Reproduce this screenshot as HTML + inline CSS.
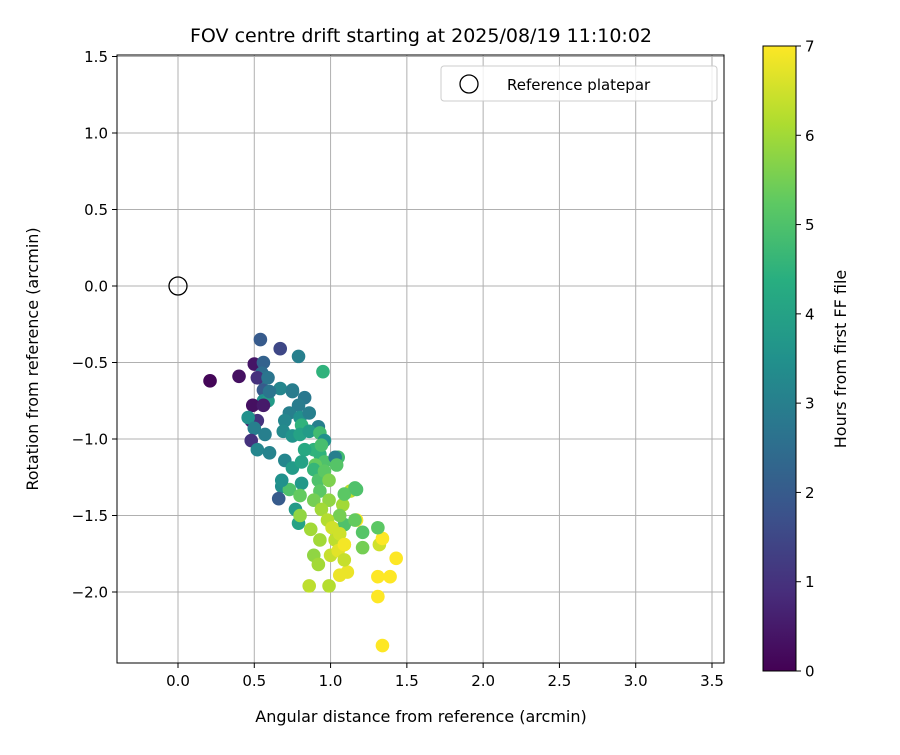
<!DOCTYPE html>
<html><head><meta charset="utf-8"><style>
body{margin:0;background:#fff;font-family:"Liberation Sans","DejaVu Sans",sans-serif}
svg text{font-family:"DejaVu Sans","Liberation Sans",sans-serif;fill:#000}
</style></head><body>
<svg id="chart" width="900" height="750" viewBox="0 0 900 750" xmlns="http://www.w3.org/2000/svg">
<defs><linearGradient id="vir" x1="0" y1="1" x2="0" y2="0">
<stop offset="0" stop-color="#440154"/><stop offset="0.125" stop-color="#472d7b"/><stop offset="0.25" stop-color="#3b528b"/><stop offset="0.375" stop-color="#2c728e"/><stop offset="0.5" stop-color="#21918c"/><stop offset="0.625" stop-color="#28ae80"/><stop offset="0.75" stop-color="#5ec962"/><stop offset="0.875" stop-color="#addc30"/><stop offset="1" stop-color="#fde725"/></linearGradient></defs>
<text x="421" y="42" font-size="19" text-anchor="middle">FOV centre drift starting at 2025/08/19 11:10:02</text>
<g id="grid"></g><g id="ticks"></g><g id="points"></g>
<rect x="117" y="55" width="607" height="608" fill="none" stroke="#000" stroke-width="1"/>
<circle cx="178" cy="286" r="9" fill="none" stroke="#000" stroke-width="1.3"/>
<g>
<rect x="441" y="66" width="276" height="35" rx="3" fill="#fff" fill-opacity="0.8" stroke="#ccc"/>
<circle cx="469" cy="84" r="9" fill="none" stroke="#000" stroke-width="1.3"/>
<text x="507" y="90" font-size="15">Reference platepar</text></g>
<text x="421" y="722" font-size="16" text-anchor="middle">Angular distance from reference (arcmin)</text>
<text transform="translate(38,359) rotate(-90)" font-size="16" text-anchor="middle">Rotation from reference (arcmin)</text>
<rect x="763" y="46" width="33" height="625" fill="url(#vir)" stroke="#000" stroke-width="1"/>
<g id="cbticks"></g>
<text transform="translate(846,359) rotate(-90)" font-size="16" text-anchor="middle">Hours from first FF file</text>
</svg>
<script>
const xTicks=[0,0.5,1,1.5,2,2.5,3,3.5];
const yTicks=[1.5,1.0,0.5,0.0,-0.5,-1.0,-1.5,-2.0];
const cTicks=[0,1,2,3,4,5,6,7];
const xs=[0.21,0.40,0.50,0.54,0.67,0.79,0.95,0.56,0.55,0.56,0.52,0.56,0.56,0.59,0.49,0.56,0.48,0.52,0.46,0.50,0.48,0.57,0.52,0.60,0.67,0.75,0.83,0.79,0.73,0.80,0.70,0.81,0.86,0.92,0.69,0.75,0.80,0.86,0.93,0.96,0.89,0.83,0.70,0.75,0.81,0.93,0.96,1.05,1.03,0.90,0.81,0.68,0.73,0.80,0.66,0.68,0.77,0.79,0.89,0.92,0.96,0.99,0.93,0.99,0.89,1.08,1.13,1.16,1.09,1.17,1.09,1.06,0.80,0.87,0.94,0.98,1.01,1.03,1.06,1.09,0.93,0.89,0.92,1.00,1.05,1.09,1.21,1.32,1.34,1.31,1.11,1.06,0.99,0.86,1.31,1.39,1.43,1.31,1.34,0.59,0.60,0.75,0.94,1.04,1.16,1.09,1.21,1.17];
const ys=[-0.62,-0.59,-0.51,-0.35,-0.41,-0.46,-0.56,-0.50,-0.57,-0.61,-0.60,-0.68,-0.75,-0.75,-0.78,-0.78,-0.88,-0.88,-0.86,-0.93,-1.01,-0.97,-1.07,-1.09,-0.67,-0.68,-0.73,-0.78,-0.83,-0.86,-0.88,-0.91,-0.83,-0.92,-0.95,-0.98,-0.97,-0.95,-0.96,-1.01,-1.07,-1.07,-1.14,-1.19,-1.15,-1.10,-1.15,-1.12,-1.12,-1.17,-1.29,-1.31,-1.33,-1.37,-1.39,-1.27,-1.46,-1.55,-1.20,-1.27,-1.21,-1.27,-1.34,-1.40,-1.40,-1.43,-1.34,-1.32,-1.36,-1.53,-1.56,-1.50,-1.50,-1.59,-1.46,-1.53,-1.58,-1.66,-1.62,-1.69,-1.66,-1.76,-1.82,-1.76,-1.73,-1.69,-1.71,-1.69,-1.65,-1.58,-1.87,-1.89,-1.96,-1.96,-1.90,-1.90,-1.78,-2.03,-2.35,-0.60,-0.69,-0.69,-1.04,-1.17,-1.53,-1.79,-1.61,-1.33];
const hs=[0.1,0.3,0.4,2.0,1.5,3.0,4.5,2.2,2.5,3.0,1.0,2.0,3.5,3.8,0.3,0.5,0.5,1.0,3.5,3.0,1.0,3.0,3.2,3.1,3.2,3.0,2.8,2.9,3.0,3.5,3.2,4.5,3.0,3.0,3.3,3.6,4.0,3.8,4.8,3.5,4.5,4.2,3.2,3.8,4.0,4.5,5.0,4.8,3.0,5.3,3.7,3.4,5.0,5.3,2.0,3.5,3.8,4.0,4.6,5.0,5.2,5.6,5.2,5.8,5.5,6.0,6.3,5.0,5.2,7.0,5.0,5.5,5.8,6.0,6.0,6.2,6.5,6.3,6.5,6.2,6.0,5.8,6.0,6.4,6.7,6.9,5.5,6.5,7.0,5.2,6.8,6.8,6.2,6.3,7.0,7.0,7.0,7.0,7.0,2.7,2.7,2.9,4.9,5.1,5.3,6.4,5.1,5.0];
const NS='http://www.w3.org/2000/svg';
const X=v=>178+v*152.57, Y=v=>286-v*153, C=v=>671-v*(625/7);
const vir=[[68,1,84],[71,45,123],[59,82,139],[44,114,142],[33,145,140],[40,174,128],[94,201,98],[173,220,48],[253,231,37]];
function col(h){let t=Math.max(0,Math.min(1,h/7))*8,i=Math.min(7,Math.floor(t)),f=t-i,a=vir[i],b=vir[i+1];return 'rgb('+a.map((c,k)=>Math.round(c+(b[k]-c)*f)).join(',')+')';}
function mk(tag,at,p){const e=document.createElementNS(NS,tag);for(const k in at)e.setAttribute(k,at[k]);p.appendChild(e);return e;}
const g=document.getElementById('grid'),tk=document.getElementById('ticks'),pt=document.getElementById('points'),cb=document.getElementById('cbticks');
xTicks.forEach(v=>{const x=X(v);
const l=mk('line',{x1:x,x2:x,y1:55,y2:663,stroke:'#b0b0b0','stroke-width':1},g);


mk('line',{x1:x,x2:x,y1:663,y2:668,stroke:'#000'},tk);
const t=mk('text',{x:x,y:686,'font-size':15,'text-anchor':'middle'},tk);t.textContent=v.toFixed(1);

});
yTicks.forEach(v=>{const y=Y(v);
const l=mk('line',{x1:117,x2:724,y1:y,y2:y,stroke:'#b0b0b0','stroke-width':1},g);


mk('line',{x1:112,x2:117,y1:y,y2:y,stroke:'#000'},tk);
const t=mk('text',{x:108,y:y+5.5,'font-size':15,'text-anchor':'end'},tk);t.textContent=(v<0?'\u2212':'')+Math.abs(v).toFixed(1);

});
cTicks.forEach(v=>{const y=C(v);
mk('line',{x1:796,x2:801,y1:y,y2:y,stroke:'#000'},cb);
const t=mk('text',{x:805,y:y+5.5,'font-size':15},cb);t.textContent=v;

});
xs.forEach((v,i)=>{const c=mk('circle',{cx:X(v),cy:Y(ys[i]),r:6.8,fill:col(hs[i])},pt);

});
</script>
</body></html>
